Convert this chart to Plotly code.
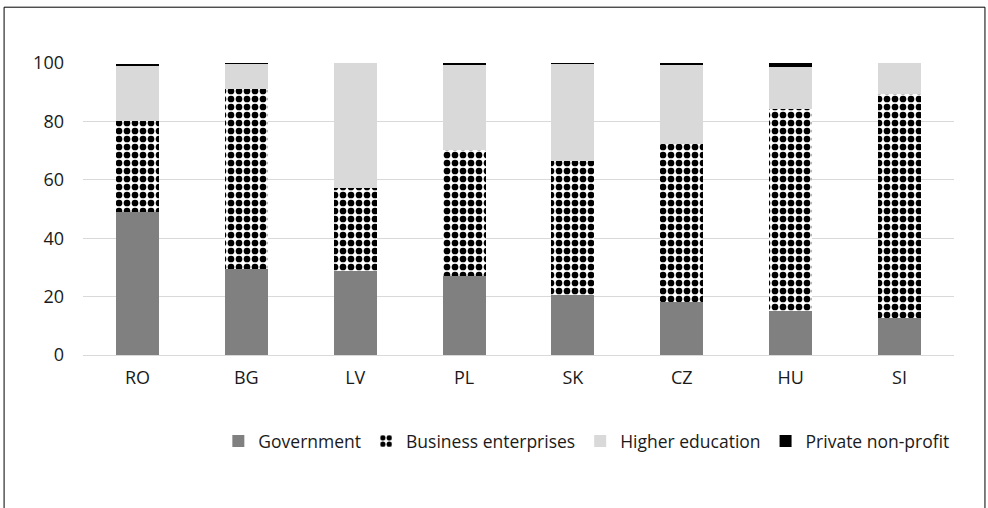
import plotly.graph_objects as go

countries = ["RO", "BG", "LV", "PL", "SK", "CZ", "HU", "SI"]
government = [49.1, 29.4, 28.8, 27.0, 20.5, 18.2, 14.9, 12.8]
business = [30.9, 61.8, 28.3, 43.2, 46.1, 54.1, 69.3, 76.5]
higher_ed = [19.3, 8.6, 42.9, 29.4, 33.2, 27.3, 14.6, 10.7]
private_np = [0.05, 0.05, 0.0, 0.35, 0.15, 0.35, 1.2, 0.0]
y_ticks = [0, 20, 40, 60, 80, 100]

W, H = 988, 508
L, R = 82.5, 954.5
T, B = 62.5, 355.5
FONT = "Open Sans"
TXT = "#1a1a1a"

fig = go.Figure()
fig.add_trace(go.Bar(name="Government", x=countries, y=government,
                     marker=dict(color="#808080", line=dict(width=0))))
fig.add_trace(go.Bar(name="Business enterprises", x=countries, y=business,
                     marker=dict(color="white", line=dict(width=0),
                                 pattern=dict(shape=".", fgcolor="black", bgcolor="white",
                                              fgopacity=1, size=8, solidity=0.55,
                                              fillmode="replace"))))
fig.add_trace(go.Bar(name="Higher education", x=countries, y=higher_ed,
                     marker=dict(color="#d9d9d9", line=dict(width=0))))
fig.add_trace(go.Bar(name="Private non-profit", x=countries, y=private_np,
                     marker=dict(color="#000000", line=dict(width=0))))

def px_x(p):
    return (p - L) / (R - L)

def px_y(p):
    return (B - p) / (B - T)

fig.update_layout(
    barmode="stack",
    bargap=0.605,
    width=W, height=H,
    margin=dict(l=L, r=W - R, t=T, b=H - B, pad=0),
    paper_bgcolor="white", plot_bgcolor="white",
    font=dict(family=FONT, size=18, color=TXT),
    showlegend=True,
    legend=dict(orientation="h", x=px_x(218), xanchor="left", y=px_y(442), yanchor="middle",
                font=dict(family=FONT, size=17.5, color=TXT), traceorder="normal",
                itemwidth=30, tracegroupgap=0, bgcolor="rgba(0,0,0,0)"),
    xaxis=dict(showgrid=False, showline=False, zeroline=False, ticks="",
               tickfont=dict(size=18, color=TXT), ticklabelstandoff=10),
    yaxis=dict(range=[0, 100], tickvals=y_ticks, showgrid=True, gridcolor="#d9d9d9",
               gridwidth=1, zeroline=True, zerolinecolor="#d9d9d9", zerolinewidth=1,
               showline=False, ticks="", tickfont=dict(size=18, color=TXT),
               ticklabelstandoff=18),
    shapes=[dict(type="rect", xref="paper", yref="paper",
                 x0=px_x(3.5), x1=px_x(985.5), y0=px_y(530), y1=px_y(6.5),
                 line=dict(color="black", width=1), fillcolor="rgba(0,0,0,0)", layer="above")],
)

fig.write_html("out.html", config={"displayModeBar": False},
               post_script="document.body.style.margin='0';document.body.style.padding='0';")
